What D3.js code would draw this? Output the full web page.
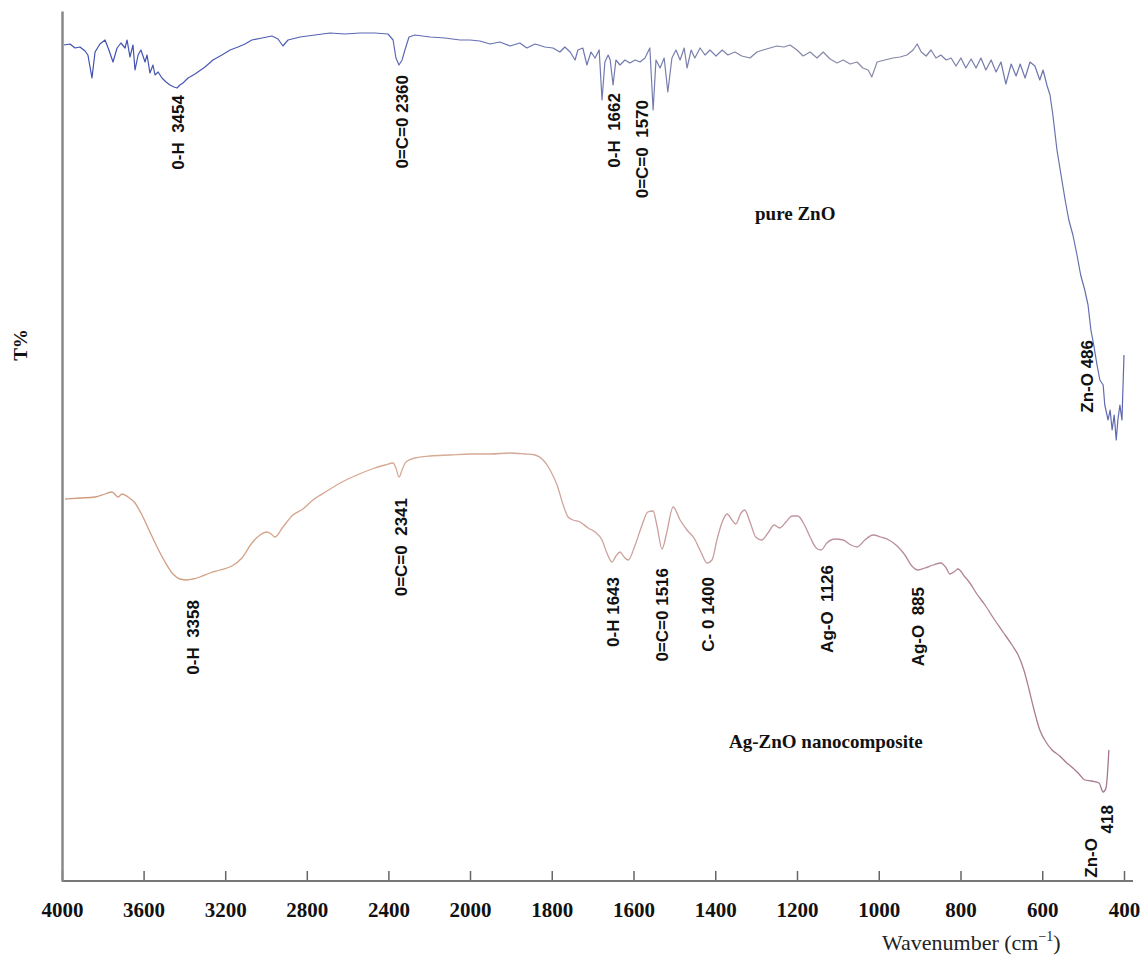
<!DOCTYPE html>
<html>
<head>
<meta charset="utf-8">
<script src="https://cdn.jsdelivr.net/npm/d3@7"></script>
<style>
  body { margin: 0; background: #fff; }
  svg { display: block; }
</style>
</head>
<body>
<div id="chart"></div>
<script>
// FTIR spectra, [wavenumber cm-1, T% (arbitrary offset units)]
var pureZnO = [
  [3990,83.6],[3961,83.7],[3936,83.3],[3912,83.4],[3887,83.0],[3873,82.6],[3853,80.3],[3838,82.9],
  [3814,83.7],[3789,84.1],[3770,83.1],[3750,81.9],[3730,83.3],[3711,83.8],[3691,83.3],[3681,84.1],
  [3667,82.4],[3652,83.6],[3642,81.1],[3627,82.6],[3613,83.1],[3593,81.9],[3583,82.6],[3569,80.8],
  [3554,81.6],[3544,80.6],[3529,80.9],[3510,80.3],[3490,79.9],[3471,79.6],[3451,79.4],[3436,79.3],
  [3422,79.6],[3407,79.8],[3382,80.3],[3348,80.7],[3299,81.4],[3260,82.1],[3216,82.6],[3176,83.1],
  [3137,83.4],[3103,83.7],[3069,84.1],[3020,84.3],[2971,84.5],[2941,84.2],[2917,83.5],[2892,84.1],
  [2833,84.4],[2760,84.6],[2686,84.8],[2613,84.7],[2539,84.8],[2466,84.8],[2402,84.7],[2377,84.1],
  [2363,82.3],[2348,81.6],[2333,82.1],[2319,83.1],[2299,84.4],[2270,84.6],[2196,84.4],[2123,84.3],
  [2049,84.1],[2000,84.1],[1976,84.0],[1951,83.7],[1927,83.9],[1902,83.5],[1878,83.8],[1861,83.3],
  [1841,83.7],[1817,83.4],[1797,83.3],[1780,82.9],[1768,83.4],[1755,82.9],[1743,82.1],[1736,83.1],
  [1724,83.3],[1714,81.6],[1704,82.9],[1694,82.3],[1684,83.1],[1677,78.1],[1670,81.9],[1662,82.6],
  [1657,82.1],[1650,79.6],[1643,82.1],[1633,81.6],[1621,82.1],[1609,81.8],[1596,82.1],[1584,81.9],
  [1572,82.3],[1560,83.3],[1552,77.1],[1545,82.1],[1535,81.3],[1525,82.3],[1516,78.9],[1506,82.3],
  [1496,83.1],[1486,82.1],[1476,83.3],[1469,81.3],[1459,83.1],[1450,82.3],[1437,83.3],[1425,82.6],
  [1413,83.1],[1398,82.5],[1383,83.1],[1369,82.6],[1352,82.9],[1335,82.5],[1315,82.3],[1298,82.9],
  [1283,83.1],[1266,83.3],[1249,83.5],[1232,83.4],[1217,83.6],[1200,83.1],[1185,82.5],[1168,82.9],
  [1151,82.3],[1136,82.9],[1119,82.2],[1102,81.8],[1087,82.1],[1070,81.7],[1053,81.9],[1039,81.3],
  [1026,81.1],[1017,80.4],[1004,81.9],[985,82.1],[965,82.3],[948,82.4],[931,82.6],[916,83.1],
  [906,83.7],[896,82.9],[884,82.5],[872,83.1],[860,82.3],[848,82.6],[835,82.1],[823,82.3],
  [811,81.5],[799,82.3],[787,81.3],[774,82.2],[762,81.3],[750,82.3],[738,81.1],[725,82.1],
  [713,80.9],[701,81.9],[689,79.7],[676,81.7],[664,80.5],[654,81.7],[642,80.3],[630,81.9],
  [618,81.5],[606,80.1],[598,81.1],[588,79.5],[581,78.6],[574,76.6],[564,73.1],[554,70.6],
  [544,68.1],[535,66.1],[525,64.6],[515,62.6],[506,60.6],[496,59.1],[488,57.6],[481,55.1],
  [474,53.6],[466,51.6],[459,50.1],[451,49.6],[447,47.6],[439,46.1],[434,47.1],[429,45.1],
  [424,46.6],[419,44.1],[415,46.1],[410,47.6],[405,46.1],[400,52.6]
];

var agZnO = [
  [3985,38.2],[3912,38.3],[3838,38.4],[3789,38.7],[3755,38.9],[3725,38.4],[3706,38.7],[3676,38.4],
  [3642,37.8],[3608,36.6],[3569,34.9],[3534,33.4],[3495,31.9],[3456,30.7],[3422,30.2],[3387,30.1],
  [3358,30.2],[3324,30.4],[3275,30.8],[3225,31.1],[3167,31.5],[3118,32.3],[3069,33.8],[3029,34.6],
  [2995,34.9],[2975,34.7],[2956,34.4],[2917,35.4],[2868,36.6],[2819,37.2],[2770,38.1],[2701,39.0],
  [2627,39.9],[2554,40.6],[2480,41.2],[2417,41.6],[2377,41.8],[2363,41.3],[2348,40.4],[2333,41.1],
  [2314,41.9],[2270,42.3],[2196,42.5],[2098,42.6],[2000,42.7],[1951,42.7],[1902,42.8],[1866,42.7],
  [1841,42.6],[1821,42.1],[1804,41.1],[1787,39.6],[1772,37.6],[1760,36.4],[1748,36.1],[1731,35.9],
  [1711,35.3],[1694,34.9],[1677,34.1],[1665,32.8],[1653,31.9],[1643,32.5],[1633,32.9],[1623,32.4],
  [1613,32.1],[1596,33.6],[1579,35.6],[1565,36.9],[1552,37.0],[1543,35.6],[1530,33.2],[1520,34.6],
  [1503,37.4],[1486,36.1],[1469,35.1],[1452,34.3],[1435,32.9],[1420,31.8],[1408,32.1],[1396,34.1],
  [1383,35.9],[1371,36.7],[1359,36.1],[1350,35.7],[1337,36.8],[1328,37.1],[1315,35.9],[1301,34.4],
  [1286,34.1],[1271,34.8],[1256,35.6],[1242,35.3],[1227,35.9],[1212,36.5],[1198,36.5],[1183,35.7],
  [1168,34.4],[1153,33.3],[1141,33.1],[1127,33.8],[1107,34.2],[1087,34.1],[1068,33.6],[1053,33.4],
  [1034,34.1],[1014,34.6],[995,34.4],[975,34.1],[955,33.5],[936,32.6],[919,31.5],[904,31.1],
  [887,31.3],[867,31.6],[848,31.8],[835,31.3],[826,30.7],[813,31.0],[806,31.2],[791,30.5],
  [777,29.8],[760,28.7],[740,27.6],[718,26.2],[696,24.9],[674,23.6],[659,22.6],[645,21.1],
  [632,19.1],[620,17.1],[606,15.1],[591,13.9],[576,13.1],[557,12.5],[540,11.8],[525,11.3],
  [510,10.7],[496,10.1],[479,10.0],[461,9.8],[451,8.9],[444,9.3],[437,13.1]
];

var tickLabels = [4000,3600,3200,2800,2400,2000,1800,1600,1400,1200,1000,800,600,400];

// peak annotations: wavenumber and text
var pureNames = ["0-H  3454","0=C=0 2360","0-H  1662","0=C=0  1570","Zn-O 486"];
var pureWaves = [3454, 2360, 1662, 1570, 486];
var agNames = ["0-H  3358","0=C=0  2341","0-H 1643","0=C=0 1516","C- 0 1400","Ag-O  1126","Ag-O  885","418","Zn-O"];
var agWaves = [3358, 2341, 1643, 1516, 1400, 1126, 885, 418, 418];

// label layout (pixel offsets / top of rotated text)
var pureLayout = [{dx:4,top:95},{dx:5,top:75},{dx:6,top:93},{dx:-4,top:100},{dx:-2,top:340}];
var agLayout = [{dx:0,top:600},{dx:0,top:498},{dx:-3,top:577},{dx:-6,top:568},{dx:-7,top:577},
                {dx:0,top:565},{dx:-8,top:587},{dx:-10,top:805},{dx:-26,top:838}];

var width = 1144, height = 959;

var svg = d3.select("#chart").append("svg")
  .attr("width", width)
  .attr("height", height);

// broken wavenumber axis: 400 cm-1 per tick above 2000, 200 below
var x = d3.scaleLinear()
  .domain([4000, 2000, 400])
  .range([62, 470, 1124]);

var y = d3.scaleLinear()
  .domain([0, 87])
  .range([881, 11]);

var defs = svg.append("defs");
var g1 = defs.append("linearGradient").attr("id", "blueGrad")
  .attr("gradientUnits", "userSpaceOnUse").attr("x1", 62).attr("x2", 1124).attr("y1", 0).attr("y2", 0);
g1.append("stop").attr("offset", "0%").attr("stop-color", "#3b4db0");
g1.append("stop").attr("offset", "40%").attr("stop-color", "#6670b4");
g1.append("stop").attr("offset", "75%").attr("stop-color", "#8a8ca6");
g1.append("stop").attr("offset", "100%").attr("stop-color", "#5e68b0");

var g2 = defs.append("linearGradient").attr("id", "brownGrad")
  .attr("gradientUnits", "userSpaceOnUse").attr("x1", 62).attr("x2", 1124).attr("y1", 0).attr("y2", 0);
g2.append("stop").attr("offset", "0%").attr("stop-color", "#cf9a7e");
g2.append("stop").attr("offset", "35%").attr("stop-color", "#d8ab94");
g2.append("stop").attr("offset", "65%").attr("stop-color", "#c49aa0");
g2.append("stop").attr("offset", "100%").attr("stop-color", "#a4738e");

// axes
var xAxis = d3.axisBottom(x)
  .tickValues(tickLabels)
  .tickSizeInner(-10)
  .tickSizeOuter(0)
  .tickPadding(21)
  .tickFormat(d3.format("d"));

var ax = svg.append("g")
  .attr("transform", "translate(0,881)")
  .call(xAxis);
ax.select(".domain").remove();
ax.selectAll(".tick line").attr("stroke", "#666").attr("stroke-width", 1.5);
ax.selectAll(".tick text")
  .attr("fill", "#111")
  .style("font-family", "'Liberation Serif', 'Times New Roman', serif")
  .style("font-weight", "bold")
  .style("font-size", "21px");

ax.append("line")
  .attr("x1", x(4000)).attr("x2", x(400) + 9)
  .attr("y1", 0).attr("y2", 0)
  .attr("stroke", "#777").attr("stroke-width", 2);

var yAxis = d3.axisLeft(y).tickValues([]).tickSizeOuter(0);
var ay = svg.append("g")
  .attr("transform", "translate(62,0)")
  .call(yAxis);
ay.select(".domain").attr("stroke", "#888").attr("stroke-width", 2.5);

// spectra
var lineTop = d3.line()
  .x(function(d){ return x(d[0]); })
  .y(function(d){ return y(d[1]); });

var lineBottom = d3.line()
  .x(function(d){ return x(d[0]); })
  .y(function(d){ return y(d[1]); })
  .curve(d3.curveMonotoneX);

svg.append("path")
  .datum(pureZnO)
  .attr("d", lineTop)
  .attr("fill", "none")
  .attr("stroke", "url(#blueGrad)")
  .attr("stroke-width", 1.2)
  .attr("stroke-linejoin", "round");

svg.append("path")
  .datum(agZnO)
  .attr("d", lineBottom)
  .attr("fill", "none")
  .attr("stroke", "url(#brownGrad)")
  .attr("stroke-width", 1.3);

// peak labels
function drawLabels(names, waves, layout) {
  svg.append("g").selectAll("text")
    .data(names)
    .enter().append("text")
    .attr("transform", function(d, i){
      return "translate(" + (x(waves[i]) + layout[i].dx) + "," + layout[i].top + ") rotate(-90)";
    })
    .attr("text-anchor", "end")
    .attr("dy", "0.36em")
    .style("font-family", "'Liberation Sans', Arial, sans-serif")
    .style("font-weight", "bold")
    .style("font-size", "17px")
    .style("white-space", "pre")
    .attr("fill", "#111")
    .text(function(d){ return d; });
}
drawLabels(pureNames, pureWaves, pureLayout);
drawLabels(agNames, agWaves, agLayout);

// sample names
svg.append("text")
  .attr("x", 755).attr("y", 220)
  .style("font-family", "'Liberation Serif', 'Times New Roman', serif")
  .style("font-weight", "bold").style("font-size", "19px")
  .attr("fill", "#111")
  .text("pure ZnO");

svg.append("text")
  .attr("x", 729).attr("y", 748)
  .style("font-family", "'Liberation Serif', 'Times New Roman', serif")
  .style("font-weight", "bold").style("font-size", "19px")
  .attr("fill", "#111")
  .text("Ag-ZnO nanocomposite");

// axis titles
svg.append("text")
  .attr("transform", "translate(20,345) rotate(-90)")
  .attr("text-anchor", "middle")
  .attr("dy", "0.35em")
  .style("font-family", "'Liberation Serif', 'Times New Roman', serif")
  .style("font-weight", "bold").style("font-size", "19px")
  .attr("fill", "#111")
  .text("T%");

var xt = svg.append("text")
  .attr("x", 882).attr("y", 950)
  .style("font-family", "'Liberation Serif', 'Times New Roman', serif")
  .style("font-size", "22px")
  .attr("fill", "#222");
xt.append("tspan").text("Wavenumber (cm");
xt.append("tspan").attr("dy", -9).style("font-size", "14px").text("\u22121");
xt.append("tspan").attr("dy", 9).text(")");
</script>
</body>
</html>
